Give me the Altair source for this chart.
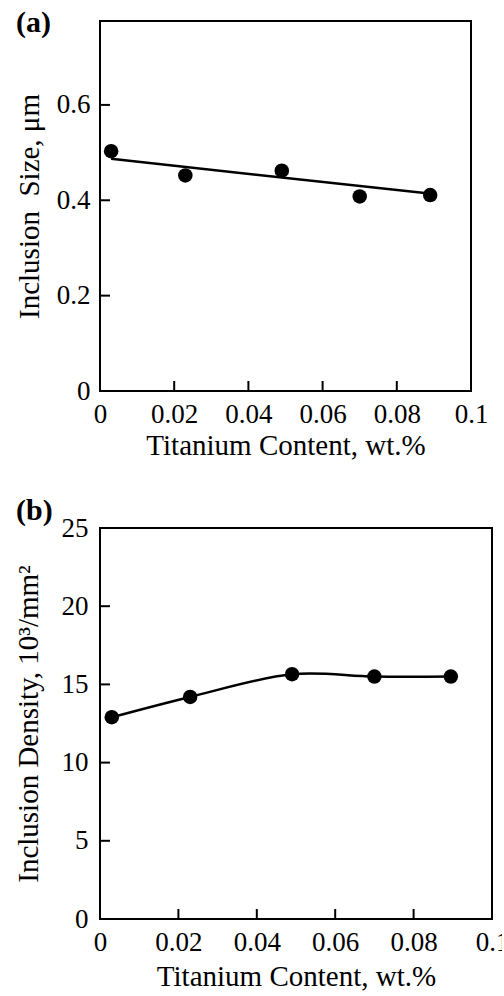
import altair as alt
import pandas as pd

# ---- data ----
ti_a = [0.003, 0.023, 0.049, 0.070, 0.089]
size_a = [0.503, 0.452, 0.462, 0.408, 0.411]
fit_x = [0.003, 0.090]
fit_y = [0.487, 0.413]

ti_b = [0.003, 0.023, 0.049, 0.070, 0.0895]
dens_b = [12.9, 14.2, 15.65, 15.5, 15.5]

x_ticks = [0, 0.02, 0.04, 0.06, 0.08, 0.1]
x_inner = [0.02, 0.04, 0.06, 0.08]
ya_ticks = [0, 0.2, 0.4, 0.6]
ya_inner = [0.2, 0.4, 0.6]
yb_ticks = [0, 5, 10, 15, 20, 25]
yb_inner = [5, 10, 15, 20]

FONT = "Liberation Serif"

df_a = pd.DataFrame({"x": ti_a, "y": size_a})
df_fit = pd.DataFrame({"x": fit_x, "y": fit_y})
df_b = pd.DataFrame({"x": ti_b, "y": dens_b})


def panel(df_pts, df_line, ydom, yvals, yinner, ytitle, W, H, tag, tag_y,
          interp, ylabpad, ytitlepad, xtitlepad):
    xs = alt.Scale(domain=[0, 0.1], nice=False, zero=False)
    ys = alt.Scale(domain=ydom, nice=False, zero=False)
    xaxis = alt.Axis(values=x_ticks, format="~g", title="Titanium Content, wt.%",
                     labelFlush=False, labelOverlap=False, labelPadding=10,
                     titlePadding=xtitlepad)
    yaxis = alt.Axis(values=yvals, format="~g", title=ytitle, labelFlush=False,
                     labelOverlap=False, labelPadding=ylabpad,
                     titlePadding=ytitlepad)
    X = lambda f: alt.X(f, scale=xs, axis=xaxis)
    Y = lambda f: alt.Y(f, scale=ys, axis=yaxis)
    line = alt.Chart(df_line).mark_line(color="black", strokeWidth=2.5,
                                        interpolate=interp).encode(
        x=X("x:Q"), y=Y("y:Q"))
    pts = alt.Chart(df_pts).mark_circle(color="black", opacity=1, size=210).encode(
        x=X("x:Q"), y=Y("y:Q"))
    xt = alt.Chart(pd.DataFrame({"x": x_inner})).mark_tick(
        color="black", thickness=2, size=10, orient="vertical", opacity=1).encode(
        x=X("x:Q"), y=alt.value(H - 5))
    yt = alt.Chart(pd.DataFrame({"y": yinner})).mark_tick(
        color="black", thickness=2, size=10, orient="horizontal", opacity=1).encode(
        y=Y("y:Q"), x=alt.value(5))
    lab = alt.Chart(pd.DataFrame({"t": [tag]})).mark_text(
        font=FONT, fontSize=30, fontWeight="bold", align="left",
        baseline="middle", color="black").encode(
        text="t:N", x=alt.value(-84), y=alt.value(tag_y))
    return alt.layer(line, pts, xt, yt, lab).properties(width=W, height=H)


pa = panel(df_a, df_fit, [0, 0.776], ya_ticks, ya_inner,
           "Inclusion\u00a0\u00a0Size, \u03bcm", 371, 370, "(a)", 2, "linear",
           10, 12, 4)
pb = panel(df_b, df_b, [0, 25], yb_ticks, yb_inner,
           "Inclusion Density, 10\u00b3/mm\u00b2", 392, 391, "(b)", -17,
           "catmull-rom", 12, 18, 7)

chart = alt.vconcat(pa, pb, spacing=34).properties(
    padding={"left": 13, "top": 7, "right": -8, "bottom": 0},
    background="white",
).configure_view(stroke="black", strokeWidth=2).configure_axis(
    grid=False, domain=False, ticks=False, tickSize=0,
    labelFont=FONT, labelFontSize=27, labelColor="black",
    titleFont=FONT, titleFontSize=29, titleFontWeight="normal", titleColor="black",
)

chart.save("out.html", embed_options={"renderer": "svg", "actions": False})
